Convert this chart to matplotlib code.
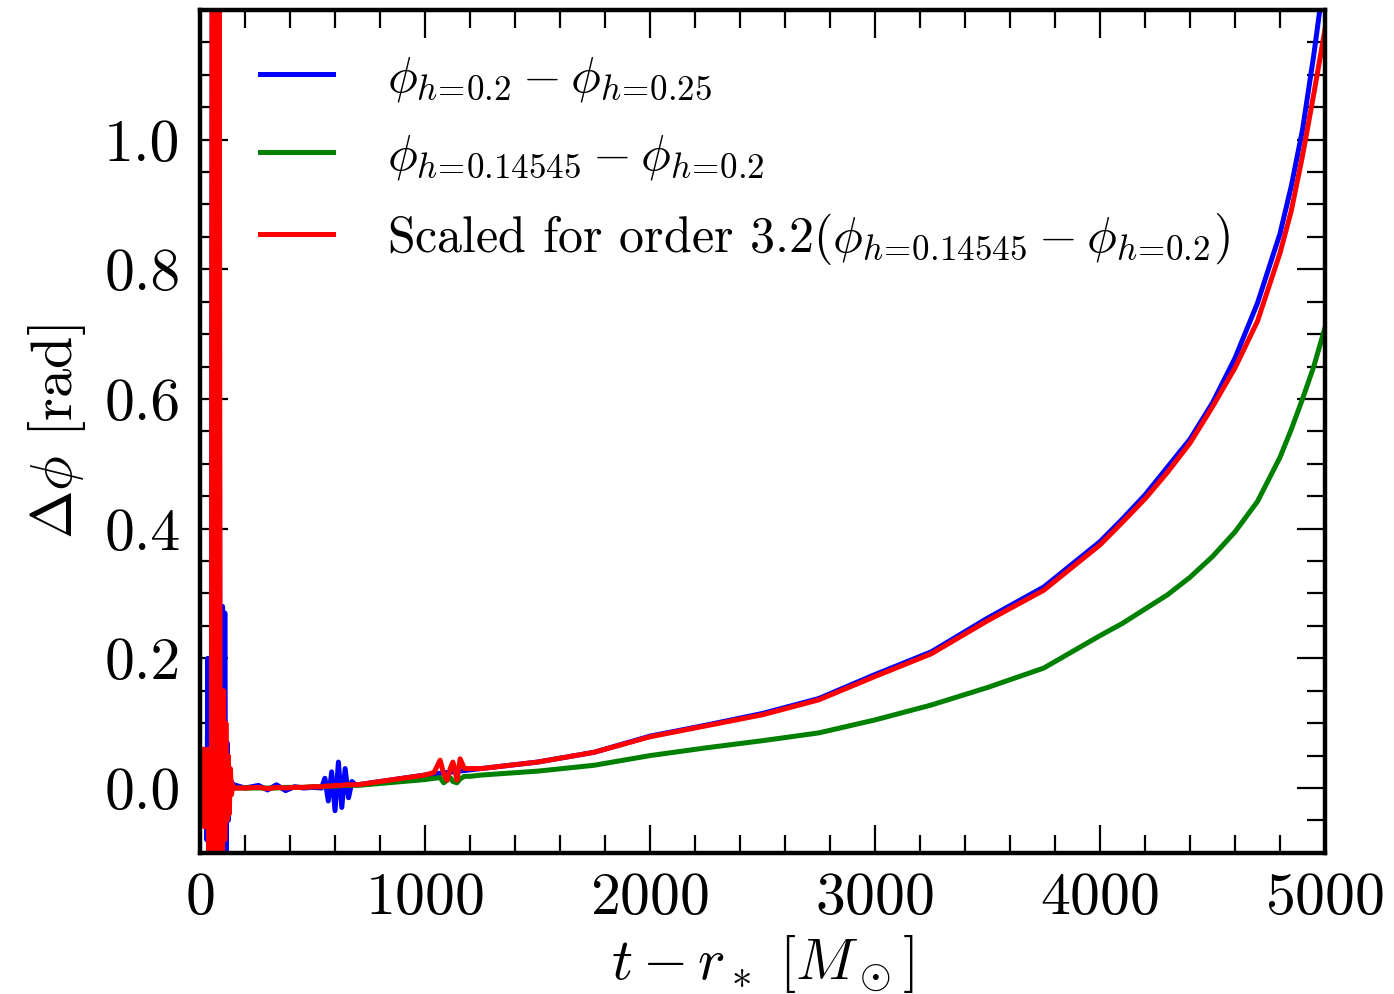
import matplotlib
matplotlib.use("Agg")
import matplotlib.pyplot as plt
import numpy as np
from matplotlib.ticker import MultipleLocator, FixedLocator, FormatStrFormatter

plt.rcParams['mathtext.fontset'] = 'cm'
plt.rcParams['font.family'] = 'serif'
plt.rcParams['font.serif'] = ['cmr10']
plt.rcParams['axes.formatter.use_mathtext'] = True
plt.rcParams['axes.unicode_minus'] = False

# early junk (t - r_* < 150)
t_early = [0, 5, 10, 15, 20, 25, 30, 35, 40, 45, 50, 55, 60, 65, 70, 75, 80, 85,
           90, 95, 100, 105, 110, 115, 120, 125, 130, 135, 140, 145, 150]
blue_early = [0.0, 0.02, -0.03, 0.03, -0.05, 0.05, -0.08, 0.2, -0.15, 0.2, -0.2, 1.5,
              -2.5, 3.0, -3.0, 2.5, -2.0, 1.0, -0.5, 0.1, 0.28, -0.2, 0.27, -0.15, 0.07,
              -0.05, 0.02, -0.01, 0.01, 0.0, 0.005]
red_early = [0.0, 0.04, -0.05, 0.06, -0.06, 0.05, -0.05, 0.06, -0.12, 0.06, -0.3, 2.0,
             -2.5, 3.0, -3.0, 2.5, -2.5, 1.5, -0.2, 0.12, -0.1, 0.15, -0.08, 0.1, -0.05,
             0.05, -0.04, 0.03, -0.01, 0.005, 0.0]

# flat part with blue burst near 600
t_mid = [200, 260, 300, 340, 380, 420, 460, 500, 540, 555, 570, 585, 600, 615, 630,
         645, 660, 675, 690]
blue_mid = [0.0, 0.004, -0.003, 0.005, -0.004, 0.002, 0.0, 0.001, 0.0, 0.015, -0.02,
            0.025, -0.035, 0.04, -0.03, 0.03, -0.015, 0.01, 0.005]
red_mid = [0.0, 0.001, -0.001, 0.001, 0.0, 0.001, 0.001, 0.002, 0.002, 0.003, 0.003,
           0.003, 0.004, 0.004, 0.004, 0.005, 0.005, 0.005, 0.005]
green_mid = [0.0, 0.0, 0.0, 0.0, 0.001, 0.001, 0.001, 0.002, 0.002, 0.002, 0.003,
             0.003, 0.003, 0.003, 0.004, 0.004, 0.004, 0.004, 0.004]

# red/green burst near 1100
t_burst = [1000, 1040, 1067, 1083, 1098, 1112, 1124, 1142, 1156, 1175, 1200]
red_burst = [0.02, 0.024, 0.043, 0.022, 0.012, 0.03, 0.04, 0.012, 0.045, 0.03, 0.03]
green_burst = [0.013, 0.015, 0.016, 0.008, 0.012, 0.016, 0.01, 0.008, 0.014, 0.018, 0.018]

# smooth late part
t_late = [700, 1000, 1250, 1500, 1750, 2000, 2250, 2500, 2750, 3000, 3250, 3500, 3750,
          4000, 4100, 4200, 4300, 4400, 4500, 4600, 4700, 4800, 4850, 4900, 4950, 5000]
blue_late = [0.005, 0.02, 0.03, 0.04, 0.055, 0.08, 0.097, 0.115, 0.138, 0.175, 0.21,
             0.262, 0.31, 0.38, 0.415, 0.452, 0.495, 0.538, 0.594, 0.663, 0.748, 0.855,
             0.928, 1.015, 1.13, 1.26]
red_late = [0.005, 0.02, 0.03, 0.04, 0.055, 0.079, 0.096, 0.113, 0.136, 0.172, 0.207,
            0.258, 0.305, 0.375, 0.41, 0.446, 0.487, 0.532, 0.588, 0.648, 0.72, 0.825,
            0.89, 0.975, 1.07, 1.17]
green_late = [0.004, 0.013, 0.02, 0.026, 0.035, 0.05, 0.062, 0.073, 0.085, 0.105, 0.128,
              0.155, 0.185, 0.235, 0.254, 0.276, 0.298, 0.325, 0.357, 0.395, 0.442, 0.51,
              0.553, 0.60, 0.65, 0.71]


def join(*parts):
    t = np.concatenate([np.asarray(p[0], float) for p in parts])
    y = np.concatenate([np.asarray(p[1], float) for p in parts])
    idx = np.argsort(t, kind='stable')
    return t[idx], y[idx]


def cut(t, y, t_lo, t_hi):
    t = np.array(t, float)
    y = np.array(y, float)
    m = (t < t_lo) | (t > t_hi)
    return t[m], y[m]


tb, yb = join((t_early, blue_early), (t_mid, blue_mid), (t_late, blue_late))
tr, yr = join((t_early, red_early), (t_mid, red_mid), (t_burst, red_burst),
              cut(t_late, red_late, 999, 1201))
tg, yg = join(([150.0], [0.0]), (t_mid, green_mid), (t_burst, green_burst),
              cut(t_late, green_late, 999, 1201))

fig = plt.figure(figsize=(13.94, 9.94), dpi=100)
ax = fig.add_axes([0.1435, 0.142, 0.807, 0.848])

ax.plot(tb, yb, color='b', lw=3.6, label=r'$\phi_{h\!=\!0.2} - \phi_{h\!=\!0.25}$')
ax.plot(tg, yg, color='g', lw=3.6, label=r'$\phi_{h\!=\!0.14545} - \phi_{h\!=\!0.2}$')
ax.plot(tr, yr, color='r', lw=3.6,
        label=r'Scaled for order $3.2(\phi_{h\!=\!0.14545} - \phi_{h\!=\!0.2})$')

ax.set_xlim(0, 5000)
ax.set_ylim(-0.1, 1.2)
ax.xaxis.set_major_locator(MultipleLocator(1000))
ax.xaxis.set_minor_locator(MultipleLocator(200))
ax.yaxis.set_major_locator(FixedLocator([0.0, 0.2, 0.4, 0.6, 0.8, 1.0]))
ax.yaxis.set_minor_locator(MultipleLocator(0.05))
ax.yaxis.set_major_formatter(FormatStrFormatter('%.1f'))

ax.tick_params(which='both', direction='in', top=True, right=True, labelsize=43, width=1.6)
ax.tick_params(which='major', length=20, pad=14)
ax.tick_params(which='minor', length=13)
for s in ax.spines.values():
    s.set_linewidth(3.2)

ax.set_xlabel(r'$t - r_*\ [M_\odot]$', fontsize=42, labelpad=5)
ax.set_ylabel(r'$\Delta\phi$ [rad]', fontsize=42, labelpad=12)

ax.legend(loc='upper left', bbox_to_anchor=(0.053, 0.947), frameon=False, fontsize=36,
          handlelength=1.46, handletextpad=1.08, labelspacing=0.58, borderpad=0,
          borderaxespad=0)

fig.savefig('out.png', dpi=100)
